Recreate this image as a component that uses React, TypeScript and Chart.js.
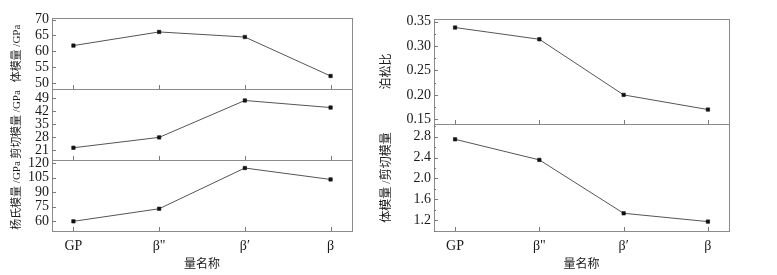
import React, { useEffect, useRef } from "react";
import { Chart, registerables } from "chart.js";

Chart.register(...registerables);

// ---- data ----
const categories = ["GP", 'β"', "β′", "β"];
const bulkModulus = [61.8, 66.1, 64.5, 52.2];
const shearModulus = [22.2, 27.8, 47.7, 43.9];
const youngModulus = [60.0, 73.0, 115.1, 103.3];
const poissonRatio = [0.338, 0.314, 0.2, 0.17];
const bulkShearRatio = [2.75, 2.356, 1.334, 1.175];

const bulkTicks = [50, 55, 60, 65, 70];
const shearTicks = [21, 28, 35, 42, 49];
const youngTicks = [60, 75, 90, 105, 120];
const poissonTicks = [0.15, 0.2, 0.25, 0.3, 0.35];
const ratioTicks = [1.2, 1.6, 2.0, 2.4, 2.8];

const xTitle = "量名称";
const FONT = '"Liberation Serif", "Times New Roman", "Noto Sans CJK SC", serif';

const framePlugin = {
  id: "frame",
  afterDraw(chart: any, _args: any, opts: any) {
    const { ctx, chartArea: a, scales } = chart;
    const ys = scales.y;
    const xs = scales.x;
    ctx.save();
    ctx.lineWidth = 1;
    ctx.strokeStyle = "#8a8a8a";
    const L = Math.round(a.left);
    const T = Math.round(a.top);
    const R = Math.round(a.right);
    const B = Math.round(a.bottom);
    ctx.strokeRect(L + 0.5, T + 0.5, R - L, B - T);
    ctx.strokeStyle = "#7a7a7a";
    const line = (x1: number, y1: number, x2: number, y2: number) => {
      ctx.beginPath();
      ctx.moveTo(x1, y1);
      ctx.lineTo(x2, y2);
      ctx.stroke();
    };
    const tickVals: number[] = opts.ticks || [];
    tickVals.forEach((v) => {
      const y = Math.round(ys.getPixelForValue(v)) + 0.5;
      line(L, y, L + 4, y);
    });
    if (opts.minor && tickVals.length > 1) {
      const step = tickVals[1] - tickVals[0];
      const mins: number[] = [];
      for (let i = -1; i < tickVals.length; i++) {
        const m = tickVals[0] + (i + 0.5) * step;
        if (m >= ys.min && m <= ys.max) mins.push(m);
      }
      mins.forEach((v) => {
        const y = Math.round(ys.getPixelForValue(v)) + 0.5;
        line(L, y, L + 2, y);
      });
    }
    categories.forEach((_c, i) => {
      const x = Math.round(xs.getPixelForValue(i)) + 0.5;
      line(x, B, x, B - 4);
    });
    ctx.restore();
  },
};

type PanelProps = {
  values: number[];
  yTicks: number[];
  yMin: number;
  yMax: number;
  yTitle: string;
  titleSize: number;
  decimals: number;
  minor: boolean;
  showX: boolean;
  left: number;
  top: number;
  width: number;
  height: number;
  axisWidth: number;
  padTop: number;
  padBottom: number;
  padRight: number;
  titlePad: number;
};

function Panel(p: PanelProps) {
  const ref = useRef<HTMLCanvasElement | null>(null);
  useEffect(() => {
    const canvas = ref.current;
    if (!canvas) return;
    const chart = new Chart(canvas, {
      type: "line",
      data: {
        datasets: [
          {
            data: p.values.map((v, i) => ({ x: i, y: v })),
            borderColor: "#555555",
            borderWidth: 1,
            pointStyle: "rect",
            pointRadius: 2.4,
            pointBackgroundColor: "#111111",
            pointBorderColor: "#111111",
            pointBorderWidth: 0.6,
            tension: 0,
            clip: false as any,
          },
        ],
      },
      options: {
        animation: false,
        responsive: false,
        maintainAspectRatio: false,
        devicePixelRatio: 1,
        layout: {
          padding: { top: p.padTop, bottom: p.padBottom, left: 0, right: p.padRight },
        },
        plugins: {
          legend: { display: false },
          tooltip: { enabled: false },
          frame: { ticks: p.yTicks, minor: p.minor },
        } as any,
        scales: {
          x: {
            type: "linear",
            min: -0.25,
            max: 3.25,
            display: p.showX,
            afterBuildTicks: (s: any) => {
              s.ticks = categories.map((_c, i) => ({ value: i }));
            },
            afterFit: (s: any) => {
              s.height = p.showX ? 44 : 0;
            },
            grid: { display: false, drawTicks: false },
            border: { display: false },
            ticks: {
              autoSkip: false,
              maxRotation: 0,
              padding: 7,
              color: "#1a1a1a",
              font: { family: FONT, size: 14 },
              callback: (v: any) => categories[Math.round(Number(v))] ?? "",
            },
            title: {
              display: true,
              text: xTitle,
              color: "#1a1a1a",
              font: { family: FONT, size: 12 },
              padding: { top: 0, bottom: 3 },
            },
          },
          y: {
            type: "linear",
            min: p.yMin,
            max: p.yMax,
            afterBuildTicks: (s: any) => {
              s.ticks = p.yTicks.map((v) => ({ value: v }));
            },
            afterFit: (s: any) => {
              s.width = p.axisWidth;
            },
            grid: { display: false, drawTicks: false },
            border: { display: false },
            ticks: {
              autoSkip: false,
              padding: 3,
              color: "#1a1a1a",
              font: { family: FONT, size: 14 },
              callback: (v: any) => Number(v).toFixed(p.decimals),
            },
            title: {
              display: true,
              text: p.yTitle,
              color: "#1a1a1a",
              font: { family: FONT, size: p.titleSize },
              padding: { top: p.titlePad, bottom: 0 },
            },
          },
        },
      } as any,
      plugins: [framePlugin as any],
    });
    return () => chart.destroy();
  }, []);
  return (
    <canvas
      ref={ref}
      width={p.width}
      height={p.height}
      style={{
        position: "absolute",
        left: p.left,
        top: p.top,
        width: p.width,
        height: p.height,
      }}
    />
  );
}

export default function App() {
  const leftCol = { left: 0, width: 364, axisWidth: 52, padRight: 12, titlePad: 11, titleSize: 11 };
  const rightCol = { left: 370, width: 371, axisWidth: 64, padRight: 12, titlePad: 10, titleSize: 12 };
  return (
    <div
      style={{
        position: "absolute",
        left: 0,
        top: 0,
        width: 777,
        height: 275,
        background: "#ffffff",
        overflow: "hidden",
      }}
    >
      <Panel
        {...leftCol}
        values={bulkModulus}
        yTicks={bulkTicks}
        yMin={48.1}
        yMax={70.5}
        yTitle="体模量 /GPa"
        decimals={0}
        minor={false}
        showX={false}
        top={6}
        height={95}
        padTop={12}
        padBottom={12}
      />
      <Panel
        {...leftCol}
        values={shearModulus}
        yTicks={shearTicks}
        yMin={15.6}
        yMax={53.9}
        yTitle="剪切模量 /GPa"
        decimals={0}
        minor={false}
        showX={false}
        top={77}
        height={95}
        padTop={12}
        padBottom={12}
      />
      <Panel
        {...leftCol}
        values={youngModulus}
        yTicks={youngTicks}
        yMin={50}
        yMax={123.4}
        yTitle="杨氏模量 /GPa"
        decimals={0}
        minor={false}
        showX={true}
        top={148}
        height={127}
        padTop={12}
        padBottom={0}
      />
      <Panel
        {...rightCol}
        values={poissonRatio}
        yTicks={poissonTicks}
        yMin={0.1404}
        yMax={0.3555}
        yTitle="泊松比"
        decimals={2}
        minor={true}
        showX={false}
        top={7}
        height={129}
        padTop={12}
        padBottom={12}
      />
      <Panel
        {...rightCol}
        values={bulkShearRatio}
        yTicks={ratioTicks}
        yMin={0.995}
        yMax={3.043}
        yTitle="体模量 /剪切模量"
        decimals={1}
        minor={true}
        showX={true}
        top={112}
        height={163}
        padTop={12}
        padBottom={0}
      />
    </div>
  );
}
